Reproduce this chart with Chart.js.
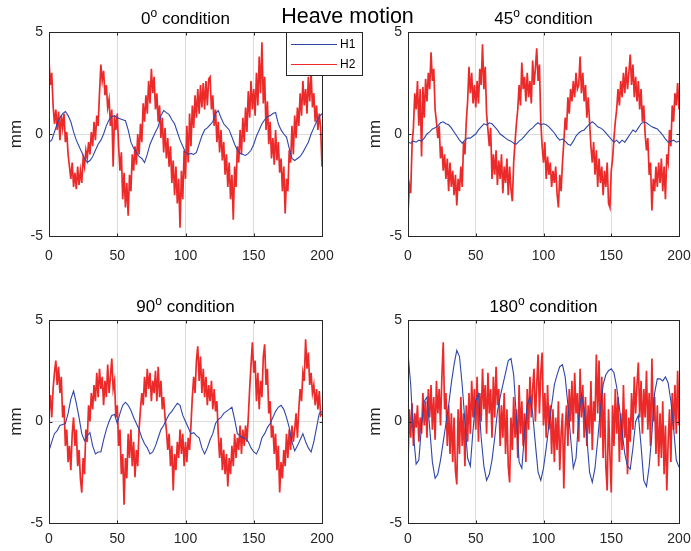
<!DOCTYPE html>
<html>
<head>
<meta charset="utf-8">
<script src="https://cdn.jsdelivr.net/npm/chart.js@4.4.1/dist/chart.umd.min.js"></script>
<style>
  html, body { margin: 0; padding: 0; background: #fff; }
  #wrap { position: relative; width: 691px; height: 551px; overflow: hidden; }
  canvas { position: absolute; }
</style>
</head>
<body>
<div id="wrap">
  <canvas id="c0" width="420" height="275" style="left:0;top:0"></canvas>
  <canvas id="c45" width="332" height="275" style="left:359px;top:0"></canvas>
  <canvas id="c90" width="345" height="271" style="left:0;top:280px"></canvas>
  <canvas id="c180" width="332" height="271" style="left:359px;top:280px"></canvas>
</div>
<script>
// --- DATOS ---
const conditions = ['0', '45', '90', '180'];
const seriesNames = ['H1', 'H2'];
const xTicks = [0, 50, 100, 150, 200];
const yTicks = [-5, 0, 5];

// H1 (muestreado cada 2 s), H2 (cada 1 s)
const h1_0 = [-0.4,-0.3,0.1,0.5,0.8,1.0,1.1,0.9,0.6,0.1,
  -0.3,-0.6,-0.9,-1.2,-1.4,-1.3,-1.1,-0.8,-0.5,-0.3,
  0.0,0.4,0.7,0.85,0.9,0.8,0.75,0.7,0.65,0.2,
  -0.4,-0.7,-0.9,-1.1,-1.2,-1.4,-1.0,-0.5,-0.2,0.1,
  0.35,0.9,1.15,1.05,0.95,0.7,0.5,0.1,-0.3,-0.6,
  -0.9,-1.0,-0.95,-1.0,-0.9,-0.5,-0.1,0.2,0.3,0.45,
  0.6,1.0,1.15,0.8,0.5,0.35,0.2,-0.15,-0.5,-0.8,
  -0.95,-1.0,-1.05,-0.95,-0.8,-0.5,-0.1,0.2,0.5,0.7,
  0.85,0.9,1.0,1.05,0.5,0.2,0.0,-0.15,-0.7,-1.2,
  -1.3,-1.2,-1.1,-0.9,-0.65,-0.4,0.0,0.3,0.6,0.85,
  1.0];
const h2_0 = [3.6,2.4,3.0,1.4,0.5,1.2,0.2,1.1,-0.3,0.9,
  0.3,1.0,-0.4,0.1,-1.0,-1.6,-2.2,-1.4,-2.6,-1.9,
  -2.7,-1.6,-2.5,-1.8,-2.4,-1.2,-1.6,-0.8,-1.2,-0.4,
  -1.0,0.1,-0.6,0.6,-0.3,0.9,0.4,2.0,3.4,2.6,
  3.1,1.9,2.4,1.3,1.7,0.4,1.2,-1.6,0.9,0.2,
  1.0,-0.6,-1.8,-0.9,-3.2,-1.9,-3.6,-2.4,-4.0,-2.0,
  -2.8,-1.0,-1.8,-0.6,-1.5,0.0,-1.0,0.5,-0.4,1.5,
  0.6,1.9,1.0,2.6,1.5,3.2,2.0,2.8,1.2,2.0,
  0.6,1.4,-0.2,0.8,-0.9,0.3,-1.2,-0.2,-1.6,-0.6,
  -2.4,-1.3,-3.0,-1.6,-3.4,-2.2,-4.6,-1.8,-3.2,-0.8,
  -2.2,0.4,-1.4,1.0,-0.6,1.4,0.3,1.9,0.8,2.2,
  1.0,2.4,1.3,2.5,1.2,2.6,1.4,2.7,2.8,1.2,
  1.9,0.4,1.2,-0.4,0.6,-0.9,0.2,-1.3,-0.4,-2.0,
  -1.0,-2.6,-1.4,-3.2,-2.0,-4.2,-1.6,-2.6,-0.6,-1.4,
  0.2,-1.0,0.8,-0.4,1.3,0.1,2.1,0.8,2.6,1.2,
  2.2,0.9,3.0,1.4,3.8,2.0,4.5,1.5,2.8,0.2,
  1.6,-0.5,0.6,-1.2,-0.2,-1.5,0.2,-1.3,-0.4,-1.9,
  -1.2,-2.8,-1.6,-3.9,-2.2,-2.8,-0.8,-1.4,0.4,-1.0,
  0.9,-0.2,1.3,0.4,2.0,0.9,2.6,1.4,2.2,1.0,
  2.8,1.6,3.0,1.3,2.0,0.6,1.4,0.2,1.0,0.3,
  -1.6];

const h1_45 = [-0.4,-0.45,-0.35,-0.4,-0.3,-0.35,-0.2,0.0,0.1,0.25,
  0.3,0.4,0.55,0.6,0.5,0.45,0.3,0.1,-0.1,-0.3,
  -0.45,-0.3,-0.2,-0.2,-0.1,0.0,0.2,0.35,0.5,0.45,
  0.55,0.5,0.35,0.2,0.0,-0.1,-0.2,-0.3,-0.35,-0.45,
  -0.5,-0.35,-0.25,-0.1,0.05,0.2,0.3,0.45,0.55,0.45,
  0.5,0.45,0.35,0.2,0.05,-0.15,-0.3,-0.25,-0.35,-0.5,
  -0.55,-0.35,-0.1,0.05,0.15,0.2,0.35,0.5,0.6,0.5,
  0.35,0.3,0.2,0.05,-0.1,-0.25,-0.4,-0.3,-0.45,-0.3,
  -0.4,-0.2,0.0,0.2,0.1,0.3,0.5,0.6,0.55,0.45,
  0.35,0.3,0.25,0.1,-0.05,-0.25,-0.4,-0.35,-0.3,-0.4,
  -0.35];
const h2_45 = [-3.9,-2.5,-2.9,-0.5,0.3,2.0,1.2,2.6,0.4,2.2,
  -1.1,2.3,0.8,2.7,1.6,3.0,2.2,4.0,2.6,3.2,
  1.2,0.6,-0.2,0.4,-1.2,-0.6,-1.8,-1.0,-2.2,-1.2,
  -2.8,-1.4,-2.6,-1.8,-3.0,-2.0,-3.5,-2.2,-2.8,-1.6,
  -2.6,-0.4,-1.0,0.6,1.6,3.3,2.0,3.0,1.5,2.4,
  1.3,2.6,1.5,3.2,2.4,4.4,2.2,3.3,1.0,0.2,
  -0.6,0.3,-2.2,-1.0,-2.0,-0.8,-2.5,-1.3,-2.2,-1.0,
  -2.9,-1.6,-2.4,-1.2,-3.0,-1.6,-2.7,-3.3,-1.4,-0.4,
  0.5,1.2,2.4,1.4,3.5,2.2,2.8,1.6,3.0,1.8,
  2.6,1.5,3.6,2.4,3.2,4.2,2.6,3.4,0.6,-0.6,
  -1.4,-0.4,-2.2,-1.1,-2.0,-1.4,-2.6,-1.8,-2.4,-1.6,
  -2.9,-3.6,-2.0,-2.8,-1.4,-0.4,0.8,0.2,1.8,1.0,
  2.2,1.6,2.6,1.8,3.0,2.2,2.4,3.8,2.0,3.0,
  1.6,2.4,0.8,1.8,0.6,-0.6,-1.4,-0.4,-2.0,-0.8,
  -2.6,-1.2,-2.4,-1.6,-3.0,-1.8,-2.6,-1.4,-3.4,-3.6,
  -1.8,-1.2,-0.2,0.6,1.2,2.2,1.4,2.6,1.8,3.0,
  2.0,3.3,2.2,3.0,3.9,2.4,3.4,1.8,2.8,1.6,
  2.6,1.2,2.2,0.6,1.4,0.0,-0.8,-0.2,-2.0,-1.4,
  -3.75,-2.2,-2.8,-1.6,-2.6,-1.4,-2.4,-1.2,-2.8,-1.6,
  -3.2,-1.0,-1.4,0.2,-0.6,1.4,0.6,2.0,1.4,2.5,
  1.2];

const h1_90 = [-1.45,-1.0,-0.6,-0.45,-0.2,-0.15,-0.1,0.4,1.1,1.5,
  0.9,0.2,-0.6,-0.95,-0.7,-0.55,-1.2,-1.6,-1.5,-1.5,
  -0.9,-0.4,0.0,0.3,0.35,-0.1,0.4,0.8,0.95,0.8,
  0.55,0.2,-0.1,-0.4,-0.8,-1.1,-1.3,-1.6,-1.5,-1.2,
  -0.8,-0.4,-0.2,0.1,0.35,0.5,0.7,0.9,0.8,0.3,
  0.0,-0.3,-0.6,-0.55,-0.7,-0.8,-1.3,-1.6,-1.3,-0.9,
  -0.6,-0.1,0.1,0.2,0.4,0.5,0.6,0.7,0.1,-0.6,
  -0.7,-0.8,-0.85,-1.0,-1.3,-1.5,-1.6,-1.3,-0.8,-0.6,
  -0.3,-0.1,0.2,0.5,0.7,0.8,0.6,0.2,-0.3,-1.0,
  -1.45,-1.2,-0.9,-0.6,-1.0,-1.3,-1.5,-1.0,-0.3,0.4,
  0.5];
const h2_90 = [0.4,1.3,0.2,1.6,2.4,3.0,1.8,2.7,1.4,2.2,
  0.2,0.8,-1.2,-0.4,-2.0,-1.2,-2.4,-0.6,0.2,-1.2,
  -0.4,-2.2,-1.4,-2.8,-3.5,-1.8,-2.6,-0.4,-1.0,0.8,
  0.0,1.4,0.6,1.8,1.0,2.4,1.2,2.6,1.6,2.2,
  0.8,2.0,1.2,2.8,1.4,2.2,3.1,1.6,2.0,0.2,
  0.8,-1.2,-0.4,-2.6,-1.6,-4.1,-1.8,-2.8,-0.6,-1.8,
  -0.4,-2.2,-1.0,-2.75,-1.4,-2.2,-0.4,0.6,1.4,0.8,
  2.2,1.2,2.6,1.6,2.4,1.0,2.0,1.4,2.5,1.0,
  2.7,1.2,2.0,0.6,1.2,0.2,-0.4,-1.4,-0.6,-2.2,
  -1.2,-3.4,-1.6,-2.4,-1.0,-1.8,-0.4,-1.6,-0.6,-2.2,
  -1.0,-2.0,-0.8,-1.4,-0.2,1.2,2.2,1.4,3.0,3.7,
  2.0,3.2,1.4,2.6,1.2,2.2,0.8,1.8,1.0,2.0,
  0.6,1.6,0.5,1.0,-0.6,-1.8,-0.8,-2.4,-1.4,-2.6,
  -1.6,-3.2,-1.8,-2.6,-1.2,-2.2,-0.6,-1.8,-0.8,-1.4,
  -0.2,-1.6,-0.4,-1.2,-0.2,-1.0,0.2,1.6,2.8,3.9,
  2.4,3.0,1.0,2.4,0.6,2.0,1.2,3.2,3.8,1.8,
  2.6,0.4,1.0,-0.8,-0.2,-1.6,-0.6,-2.4,-1.2,-3.5,
  -2.0,-2.8,-1.4,-2.2,-0.6,-1.8,-0.4,-1.4,-0.2,-1.0,
  -0.4,0.4,-0.8,0.6,1.6,1.0,2.4,2.0,4.05,2.6,
  3.4,1.8,2.4,1.4,1.8,0.8,1.6,0.6,1.5,0.3,
  0.4];

const h1_180 = [3.4,1.8,-0.6,-2.1,-1.9,-0.2,1.0,1.2,-0.3,-2.0,
  -2.8,-2.6,-1.9,-1.0,-0.1,0.8,1.9,2.8,3.5,3.2,
  1.8,0.0,-1.8,-2.2,-0.4,1.0,1.35,-0.8,-2.2,-2.9,
  -2.6,-1.9,-0.8,0.5,1.2,1.8,2.4,3.0,3.1,2.3,
  0.2,-2.0,-2.3,-0.6,0.8,1.2,0.4,-1.1,-2.5,-2.9,
  -2.3,-1.3,-0.2,0.8,1.8,2.3,2.7,2.8,2.2,0.8,
  -0.8,-2.3,-1.8,0.2,1.3,0.6,-0.8,-2.5,-3.0,-2.3,
  -0.9,0.6,1.8,2.3,2.5,2.6,2.4,1.7,0.7,-0.5,
  -1.6,-2.2,-2.35,-1.3,0.0,0.3,-1.2,-2.9,-3.2,-2.2,
  -0.6,1.4,2.1,2.1,2.0,2.2,1.9,1.0,-0.3,-1.9,
  -2.25];
const h2_180 = [-1.9,0.6,-0.8,0.9,-1.2,0.4,-0.3,0.8,-1.0,0.2,
  -0.6,1.4,-0.2,1.0,-0.8,1.6,0.2,1.8,-0.4,1.2,
  -0.9,2.0,0.4,1.6,-0.2,2.2,3.9,0.6,1.4,-1.2,
  0.8,-1.6,0.4,-2.0,0.2,-2.4,-3.1,0.6,-1.6,1.2,
  -1.2,0.4,-2.2,0.8,-1.0,1.4,-0.6,2.0,0.2,1.6,
  -0.4,2.2,-1.0,1.4,0.0,2.6,0.6,1.8,-0.6,2.4,
  0.4,1.6,-0.8,2.2,0.2,2.7,0.8,1.6,-1.2,0.8,
  -0.8,1.4,-1.6,0.6,-2.2,-3.0,0.2,-1.4,1.2,-0.8,
  0.6,-1.8,1.8,-0.6,1.0,-1.2,0.4,-2.0,1.6,-0.4,
  2.2,0.2,1.6,2.6,0.0,1.8,3.3,0.4,2.4,3.4,
  -0.2,1.4,-0.8,1.8,-0.4,0.8,-1.6,0.6,-2.0,0.2,
  -1.4,1.0,-2.4,-0.6,0.4,-3.3,-0.4,0.8,-1.2,1.6,
  0.0,2.0,-0.6,2.4,0.4,1.4,-1.0,2.6,0.2,1.8,
  -0.8,1.2,-1.2,0.8,-0.6,2.0,-1.4,1.0,0.0,3.3,
  0.4,3.0,-0.8,2.2,-1.8,1.4,-2.2,-3.4,0.6,-1.6,
  -3.5,0.8,-1.2,1.6,-0.6,1.2,-2.0,0.4,-1.4,1.8,
  -0.8,0.6,-2.6,0.2,-1.0,1.4,-0.4,2.2,0.4,1.8,
  2.9,0.2,2.0,-0.6,1.6,0.2,2.5,-0.4,1.4,-1.2,
  3.1,0.0,1.2,-1.6,0.8,-2.2,0.4,-1.8,1.0,-2.6,
  -0.2,-3.4,-1.0,0.6,-2.0,1.4,-0.4,1.8,-0.6,2.5,
  -0.2];

// --- ESTILO ---
const FONT = "'Liberation Sans', Arial, Helvetica, sans-serif";
const AXIS = '#262626';
const BLUE = '#3046a8';
const RED = '#ed2a2a';
const T_END = 200;

// cada muestra se reparte uniforme entre 0 y 200 s
function toPoints(vals) {
  const n = vals.length - 1;
  return vals.map((v, i) => ({ x: i * T_END / n, y: v }));
}

// caja completa estilo MATLAB + marcas hacia adentro
const boxPlugin = {
  id: 'box',
  afterDatasetsDraw(chart) {
    const { ctx, chartArea: a, scales } = chart;
    const L = Math.round(a.left) + 0.5, R = Math.round(a.right) + 0.5;
    const T = Math.round(a.top) + 0.5, B = Math.round(a.bottom) + 0.5;
    ctx.save();
    ctx.strokeStyle = AXIS;
    ctx.lineWidth = 1;
    ctx.strokeRect(L, T, R - L, B - T);
    ctx.beginPath();
    xTicks.forEach(v => {
      const px = Math.round(scales.x.getPixelForValue(v)) + 0.5;
      ctx.moveTo(px, T); ctx.lineTo(px, T + 3);
      ctx.moveTo(px, B); ctx.lineTo(px, B - 3);
    });
    yTicks.forEach(v => {
      const py = Math.round(scales.y.getPixelForValue(v)) + 0.5;
      ctx.moveTo(L, py); ctx.lineTo(L + 3, py);
      ctx.moveTo(R, py); ctx.lineTo(R - 3, py);
    });
    ctx.stroke();
    ctx.restore();
  }
};

// titulo de cada panel: "0^o condition"
const panelTitle = {
  id: 'panelTitle',
  afterDraw(chart) {
    const opt = chart.options.plugins.panelTitle;
    if (!opt) return;
    const { ctx, chartArea: a } = chart;
    const base = a.top - 8.5;
    const cx = (a.left + a.right) / 2;
    ctx.save();
    ctx.fillStyle = '#000';
    ctx.textBaseline = 'alphabetic';
    ctx.textAlign = 'left';
    const big = '17px ' + FONT, small = '12px ' + FONT;
    const rest = ' condition';
    ctx.font = big;
    const w1 = ctx.measureText(opt.text).width;
    const w3 = ctx.measureText(rest).width;
    ctx.font = small;
    const w2 = ctx.measureText('o').width;
    let x = cx - (w1 + w2 + w3) / 2;
    ctx.font = big; ctx.fillText(opt.text, x, base); x += w1;
    ctx.font = small; ctx.fillText('o', x, base - 7); x += w2;
    ctx.font = big; ctx.fillText(rest, x, base);
    if (opt.main) {
      ctx.font = '21.5px ' + FONT;
      ctx.textAlign = 'center';
      ctx.fillText(opt.main, 347.5, 23);
    }
    ctx.restore();
  }
};

// leyenda en cuadro (solo primer panel)
const boxLegend = {
  id: 'boxLegend',
  afterDraw(chart) {
    if (!chart.options.plugins.boxLegend) return;
    const ctx = chart.ctx;
    ctx.save();
    ctx.fillStyle = '#fff';
    ctx.fillRect(286, 32.5, 76, 43);
    ctx.strokeStyle = AXIS;
    ctx.lineWidth = 1;
    ctx.strokeRect(286.5, 32.5, 76, 43);
    ctx.font = '12px ' + FONT;
    ctx.textBaseline = 'middle';
    chart.data.datasets.forEach((ds, i) => {
      const y = 44.5 + i * 20;
      ctx.strokeStyle = ds.borderColor;
      ctx.lineWidth = 1.2;
      ctx.beginPath();
      ctx.moveTo(291, y); ctx.lineTo(337, y);
      ctx.stroke();
      ctx.fillStyle = '#000';
      ctx.fillText(ds.label, 340, y + 0.5);
    });
    ctx.restore();
  }
};

function makeChart(id, cond, h1, h2, pad, xHeight, tickPad, extra) {
  return new Chart(document.getElementById(id), {
    type: 'line',
    data: {
      datasets: [
        { label: seriesNames[0], data: toPoints(h1), borderColor: BLUE, borderWidth: 1.1, pointRadius: 0, tension: 0 },
        { label: seriesNames[1], data: toPoints(h2), borderColor: RED, borderWidth: 1.7, pointRadius: 0, tension: 0 }
      ]
    },
    options: {
      responsive: false,
      animation: false,
      devicePixelRatio: 1,
      layout: { padding: pad },
      plugins: {
        legend: { display: false },
        tooltip: { enabled: false },
        panelTitle: Object.assign({ text: cond }, extra || {}),
        boxLegend: !!(extra && extra.main)
      },
      scales: {
        x: {
          type: 'linear', min: 0, max: T_END,
          afterBuildTicks: s => { s.ticks = xTicks.map(v => ({ value: v })); },
          afterFit: s => { s.height = xHeight; s.paddingLeft = 0; s.paddingRight = 0; },
          grid: { color: '#dcdcdc', drawTicks: false },
          border: { display: false },
          ticks: { autoSkip: false, maxRotation: 0, padding: tickPad, color: AXIS, font: { family: FONT, size: 14 } }
        },
        y: {
          min: -5, max: 5,
          afterBuildTicks: s => { s.ticks = yTicks.map(v => ({ value: v })); },
          afterFit: s => { s.width = 49; s.paddingTop = 0; s.paddingBottom = 0; },
          grid: { color: '#dcdcdc', drawTicks: false },
          border: { display: false },
          ticks: { padding: 6, color: AXIS, font: { family: FONT, size: 14 } },
          title: { display: true, text: 'mm', color: AXIS, font: { family: FONT, size: 17 }, padding: { top: 6, bottom: 0 } }
        }
      }
    },
    plugins: [boxPlugin, panelTitle, boxLegend]
  });
}

makeChart('c0', conditions[0], h1_0, h2_0, { left: 0, right: 98, top: 32, bottom: 0 }, 39, 12, { main: 'Heave motion' });
makeChart('c45', conditions[1], h1_45, h2_45, { left: 0, right: 12, top: 32, bottom: 0 }, 39, 12);
makeChart('c90', conditions[2], h1_90, h2_90, { left: 0, right: 23, top: 40, bottom: 0 }, 28, 8);
makeChart('c180', conditions[3], h1_180, h2_180, { left: 0, right: 12, top: 40, bottom: 0 }, 28, 8);
</script>
</body>
</html>
